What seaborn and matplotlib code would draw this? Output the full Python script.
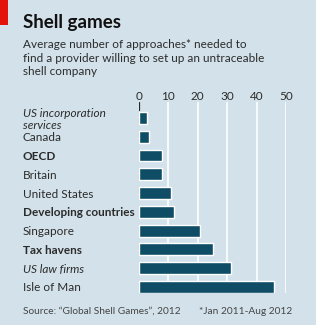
import numpy as np
import pandas as pd
import seaborn as sns
import matplotlib.pyplot as plt
from matplotlib.patches import Rectangle

categories = ["US incorporation\nservices", "Canada", "OECD", "Britain", "United States",
              "Developing countries", "Singapore", "Tax havens", "US law firms", "Isle of Man"]
values = [2.7, 3.6, 7.8, 8.0, 10.8, 12.0, 20.9, 25.1, 31.3, 46.1]
label_style = ["italic", "normal", "bold", "normal", "normal",
               "bold", "normal", "bold", "italic", "normal"]
xticks = [0, 10, 20, 30, 40, 50]

bg = "#d3e2ea"
bar_col = "#0f4d66"
txt = "#2b2b2b"

sns.set_style("white")
plt.rcParams["font.family"] = ["Lato", "DejaVu Sans"]

df = pd.DataFrame({"cat": categories, "val": values})

fig = plt.figure(figsize=(3.16, 3.25), dpi=100)
fig.patch.set_facecolor(bg)
ax = fig.add_axes([0.439, 0.0985, 0.466, 0.588])
ax.set_facecolor(bg)

sns.barplot(data=df, x="val", y="cat", orient="h", color=bar_col, width=0.63,
            saturation=1, ax=ax, zorder=3)

ax.set_xlim(0, 50)
ax.set_ylim(9.32, -0.85)
ax.set_xticks(xticks)
ax.xaxis.tick_top()
ax.tick_params(axis="x", length=0, pad=0, labelsize=8.5, labelcolor=txt)
ax.grid(axis="x", color="white", lw=1.2, zorder=1)
ax.xaxis.get_gridlines()[0].set_visible(False)
ax.axvline(0, ymin=0.955, ymax=1.0, color=txt, lw=0.9, zorder=4)
for s in ax.spines.values():
    s.set_visible(False)
ax.set_xlabel("")
ax.set_ylabel("")

ax.tick_params(axis="y", length=0, pad=83.5, labelsize=8.5, labelcolor=txt)
for lab, st in zip(ax.get_yticklabels(), label_style):
    lab.set_horizontalalignment("left")
    lab.set_linespacing(1.1)
    if st == "bold":
        lab.set_fontweight("bold")
    elif st == "italic":
        lab.set_fontstyle("italic")

fig.add_artist(Rectangle((0, 1 - 25 / 325), 8 / 316, 25 / 325,
                         transform=fig.transFigure, color="#e3120b", lw=0))
fig.text(23 / 316, 1 - 28 / 325, "Shell games", fontsize=13.5, fontweight="bold",
         color="#111111", va="baseline")
fig.text(23 / 316, 1 - 39 / 325,
         "Average number of approaches* needed to\nfind a provider willing to set up an untraceable\nshell company",
         fontsize=8.5, color=txt, va="top", linespacing=1.3)
fig.text(23 / 316, 1 - 314 / 325, "Source: \u201cGlobal Shell Games\u201d, 2012",
         fontsize=7.3, color="#444444", va="baseline")
fig.text(292 / 316, 1 - 314 / 325, "*Jan 2011-Aug 2012",
         fontsize=7.3, color="#444444", va="baseline", ha="right")

fig.savefig("out.png", dpi=100, facecolor=bg)
